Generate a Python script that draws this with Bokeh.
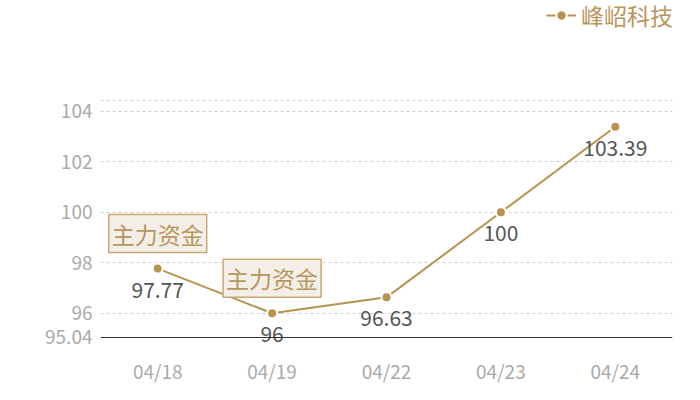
from bokeh.plotting import figure
from bokeh.models import ColumnDataSource, FixedTicker, Legend, LegendItem, FactorRange, Range1d, Span
from bokeh.core.properties import value
from bokeh.embed import file_html
from bokeh.resources import INLINE

# ---- data ----
dates = ["04/18", "04/19", "04/22", "04/23", "04/24"]
prices = [97.77, 96.00, 96.63, 100.00, 103.39]
price_labels = ["97.77", "96", "96.63", "100", "103.39"]
series_name = "峰岹科技"
annot_dates = ["04/18", "04/19"]
annot_values = [97.77, 96.00]
annot_texts = ["主力资金", "主力资金"]
y_min = 95.04
y_view_min = 94.604   # frame extends a little below the axis line
y_view_max = 108.23   # frame extends up to the legend row
y_ticks = [95.04, 96, 98, 100, 102, 104]
grid_ticks = [96, 98, 100, 102, 104, 104.43]

FONT = "Noto Sans CJK SC"
GOLD = "#b8924f"

p = figure(
    x_range=FactorRange(*dates, range_padding=0),
    y_range=Range1d(y_view_min, y_view_max),
    frame_width=572, frame_height=344,
    min_border_left=100, min_border_right=28, min_border_top=4, min_border_bottom=52,
    output_backend="svg", toolbar_location=None,
)
p.outline_line_color = None
p.background_fill_color = "white"
p.border_fill_color = "white"

# baseline (x axis line) at the lowest value of the axis
p.add_layout(Span(location=y_min, dimension="width", line_color="#333333", line_width=1))

src = ColumnDataSource(dict(x=dates, y=prices, lab=price_labels))
line_r = p.line("x", "y", source=src, line_color=GOLD, line_width=2)
pts_r = p.scatter("x", "y", source=src, size=10, fill_color=GOLD, line_color="white", line_width=2)

p.text("x", "y", text="lab", source=src, y_offset=21, text_align="center", text_baseline="middle",
       text_font=value(FONT), text_font_size="21px", text_color="#555555")

asrc = ColumnDataSource(dict(x=annot_dates, y=annot_values, t=annot_texts))
p.text("x", "y", text="t", source=asrc, y_offset=-35, text_align="center", text_baseline="middle",
       text_font=value(FONT), text_font_size="23px", text_color="#b8955a",
       background_fill_color="#f3efe8", border_line_color="#c9a874", border_line_width=1.5,
       padding=[3, 2])

# axes
p.yaxis.ticker = FixedTicker(ticks=y_ticks)
p.yaxis.axis_line_color = None
p.yaxis.major_tick_line_color = None
p.yaxis.major_tick_out = 0
p.yaxis.minor_tick_line_color = None
p.yaxis.major_label_text_color = "#aaaaaa"
p.yaxis.major_label_text_font = FONT
p.yaxis.major_label_text_font_size = "19px"
p.yaxis.major_label_standoff = 8

p.xaxis.axis_line_color = None
p.xaxis.major_tick_line_color = None
p.xaxis.major_tick_out = 0
p.xaxis.minor_tick_line_color = None
p.xaxis.major_label_text_color = "#aaaaaa"
p.xaxis.major_label_text_font = FONT
p.xaxis.major_label_text_font_size = "19px"
p.xaxis.major_label_standoff = 8

p.xgrid.grid_line_color = None
p.ygrid.ticker = FixedTicker(ticks=grid_ticks)
p.ygrid.grid_line_color = "#cccccc"
p.ygrid.grid_line_dash = "3 3"
p.ygrid.grid_line_width = 1

legend = Legend(items=[LegendItem(label=series_name, renderers=[line_r, pts_r])],
                location=(446, 316), orientation="horizontal",
                label_text_font=FONT, label_text_font_size="23px", label_text_color="#b8955a",
                glyph_width=30, glyph_height=26, label_height=26, label_width=110,
                label_standoff=5, padding=0, margin=0,
                border_line_color=None, background_fill_alpha=0)
p.add_layout(legend)

open("out.html", "w").write(file_html(p, INLINE))
